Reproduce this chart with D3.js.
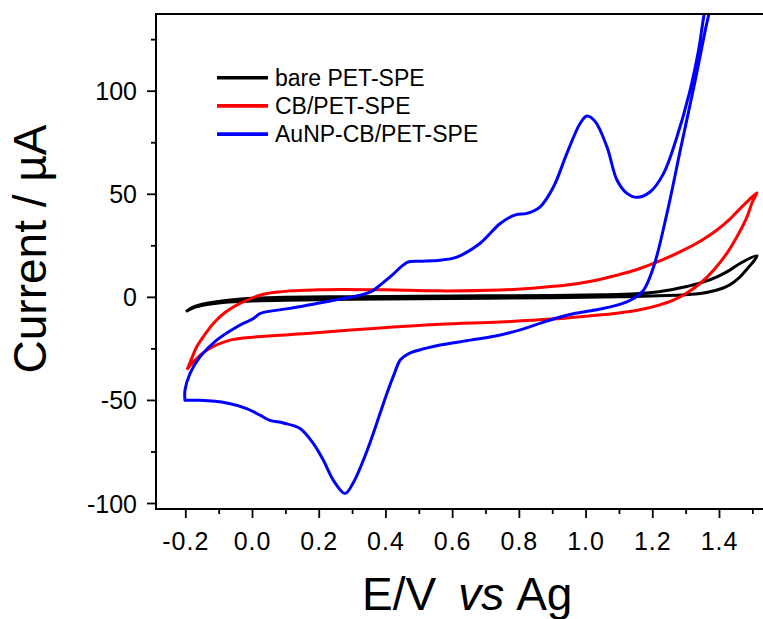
<!DOCTYPE html>
<html>
<head>
<meta charset="utf-8">
<script src="https://cdn.jsdelivr.net/npm/d3@7"></script>
<style>
  html, body { margin: 0; padding: 0; background: #fff; }
  svg { display: block; font-family: "Liberation Sans", Arial, sans-serif; }
</style>
</head>
<body>
<svg id="chart" width="763" height="619"></svg>
<script>
// Cyclic voltammograms: potential (V vs Ag) and current (µA), each loop traced in scan order.
const bareE = [-0.195, -0.18, -0.15, -0.10, -0.05, 0.0, 0.1, 0.3, 0.5, 0.7, 0.9, 1.05, 1.15, 1.22, 1.3, 1.35, 1.394, 1.43, 1.464, 1.514,
               1.50, 1.484, 1.465, 1.443, 1.42, 1.394, 1.344, 1.3, 1.244, 1.1, 0.9, 0.6, 0.3, 0.1, 0.0, -0.08, -0.13, -0.17, -0.195];
const bareI = [-6.8, -5.2, -3.6, -2.2, -1.3, -0.7, -0.2, 0.1, 0.3, 0.5, 0.7, 1.0, 1.5, 2.5, 4.9, 7.0, 9.7, 12.7, 16.3, 19.9,
               16.5, 13.5, 10.0, 7.0, 4.8, 3.3, 1.6, 1.0, 0.6, 0.0, -0.4, -0.8, -1.2, -1.6, -2.0, -2.6, -3.6, -5.0, -6.8];

const cbE = [-0.193, -0.18, -0.166, -0.14, -0.116, -0.08, -0.036, 0.024, 0.07, 0.114, 0.2, 0.264, 0.4, 0.564, 0.744, 0.85, 0.944, 1.02, 1.094,
             1.15, 1.204, 1.254, 1.304, 1.35, 1.394, 1.43, 1.464, 1.49, 1.514,
             1.50, 1.484, 1.455, 1.424, 1.385, 1.344, 1.30, 1.263, 1.22, 1.17, 1.1, 1.0, 0.9, 0.744, 0.564, 0.364, 0.164, 0.014, -0.066,
             -0.136, -0.171, -0.193];
const cbI = [-34.8, -29.5, -24.3, -18.0, -12.9, -7.5, -3.2, 0.8, 2.2, 2.9, 3.4, 3.6, 3.4, 2.9, 3.3, 4.3, 5.7, 7.7, 10.5,
             13.0, 16.2, 19.6, 23.5, 27.6, 32.4, 37.3, 42.9, 47.0, 50.5,
             46.0, 38.8, 29.5, 21.2, 13.2, 6.6, 1.5, -1.6, -4.0, -6.0, -7.8, -9.4, -10.8, -12.2, -13.3, -15.3, -17.8, -19.4, -21.0,
             -25.9, -30.7, -34.8];

const aunpE = [-0.201, -0.201, -0.186, -0.156, -0.106, -0.046, 0.004, 0.024, 0.06, 0.114, 0.194, 0.26, 0.324, 0.36, 0.384, 0.42, 0.45,
               0.47, 0.504, 0.564, 0.61, 0.684, 0.744, 0.79, 0.824, 0.864, 0.904, 0.944, 0.984, 1.004, 1.029, 1.064, 1.094, 1.124,
               1.154, 1.194, 1.234, 1.271, 1.311, 1.339, 1.356, 1.38,
               1.370, 1.361, 1.327, 1.284, 1.244, 1.204, 1.174, 1.144, 1.1, 1.04, 0.97, 0.924, 0.87, 0.804, 0.73, 0.654, 0.564, 0.52,
               0.47, 0.445, 0.425, 0.404, 0.383, 0.344, 0.304, 0.279, 0.244, 0.214, 0.184, 0.144, 0.094, 0.054, 0.024,
               -0.016, -0.076, -0.156, -0.201];
const aunpI = [-50.2, -45.3, -37.2, -29.1, -21.0, -14.6, -10.5, -8.1, -6.8, -5.6, -3.2, -1.2, 0.8, 2.8, 5.7, 10.5, 15.0,
               17.0, 17.3, 17.8, 19.0, 26.0, 35.6, 39.8, 40.5, 43.7, 53.4, 69.6, 84.2, 87.7, 85.0, 72.8, 56.7, 50.2,
               48.3, 51.0, 59.9, 76.1, 98.7, 119.8, 137.6, 155.0,
               137.6, 131.1, 103.6, 71.2, 40.5, 14.6, 3.3, -0.8, -3.8, -6.0, -8.0, -9.8, -12.5, -16.0, -19.0, -21.0, -23.4, -25.0,
               -27.5, -30.5, -38.0, -47.0, -57.0, -75.0, -90.0, -95.4, -89.0, -79.3, -71.2, -63.9, -61.2, -59.9, -57.4,
               -54.2, -51.5, -50.2, -50.2];

const seriesNames = ["bare PET-SPE", "CB/PET-SPE", "AuNP-CB/PET-SPE"];
const seriesColors = ["#000000", "#ff0000", "#0000ff"];

const xMajor = [-0.2, 0.0, 0.2, 0.4, 0.6, 0.8, 1.0, 1.2, 1.4];
const xMinor = [-0.1, 0.1, 0.3, 0.5, 0.7, 0.9, 1.1, 1.3, 1.5];
const yMajor = [-100, -50, 0, 50, 100];
const yMinor = [-75, -25, 25, 75, 125];

const svg = d3.select("#chart");

// Plot frame (the right side runs past the page edge)
const frame = { left: 156, top: 14, right: 772, bottom: 509 };

const x = d3.scaleLinear().domain([-0.2, 1.4]).range([185.3, 719.0]);
const y = d3.scaleLinear().domain([-100, 100]).range([503.0, 90.7]);

svg.append("defs").append("clipPath").attr("id", "plotClip")
  .append("rect")
  .attr("x", frame.left).attr("y", frame.top)
  .attr("width", frame.right - frame.left).attr("height", frame.bottom - frame.top);

// Curves
const line = d3.line()
  .x(d => x(d[0]))
  .y(d => y(d[1]))
  .curve(d3.curveCatmullRom.alpha(0.5));

const seriesData = [
  d3.zip(bareE, bareI),
  d3.zip(cbE, cbI),
  d3.zip(aunpE, aunpI)
];

const curves = svg.append("g").attr("clip-path", "url(#plotClip)");
curves.selectAll("path")
  .data(seriesData)
  .join("path")
  .attr("d", line)
  .attr("fill", "none")
  .attr("stroke", (d, i) => seriesColors[i])
  .attr("stroke-width", 3)
  .attr("stroke-linejoin", "round")
  .attr("stroke-linecap", "round");

// Axes (plain hyphen for negative labels)
const tickFont = 25;

const xAxis = svg.append("g").attr("transform", `translate(0,${frame.bottom})`)
  .call(d3.axisBottom(x).tickValues(xMajor).tickFormat(d => d.toFixed(1))
    .tickSize(9).tickPadding(14).tickSizeOuter(0));
svg.append("g").attr("transform", `translate(0,${frame.bottom})`)
  .call(d3.axisBottom(x).tickValues(xMinor).tickFormat("").tickSize(5).tickSizeOuter(0));

const yAxis = svg.append("g").attr("transform", `translate(${frame.left},0)`)
  .call(d3.axisLeft(y).tickValues(yMajor).tickFormat(d => String(d))
    .tickSize(9).tickPadding(10).tickSizeOuter(0));
svg.append("g").attr("transform", `translate(${frame.left},0)`)
  .call(d3.axisLeft(y).tickValues(yMinor).tickFormat("").tickSize(5).tickSizeOuter(0));

svg.selectAll(".domain").remove();
svg.selectAll(".tick line").attr("stroke", "#000").attr("stroke-width", 1.8);
svg.selectAll(".tick text")
  .attr("fill", "#000")
  .style("font-size", tickFont + "px")
  .style("font-family", "'Liberation Sans', Arial, sans-serif");
yAxis.selectAll(".tick text").attr("dy", "0.36em");
xAxis.selectAll(".tick text").attr("dy", "0.71em").style("letter-spacing", "1px");

// Frame lines: left, bottom, top
const frameG = svg.append("g").attr("stroke", "#000").attr("stroke-width", 2).attr("fill", "none");
frameG.append("line").attr("x1", frame.left).attr("x2", frame.left).attr("y1", frame.top).attr("y2", frame.bottom + 1);
frameG.append("line").attr("x1", frame.left - 1).attr("x2", frame.right).attr("y1", frame.bottom).attr("y2", frame.bottom);
frameG.append("line").attr("x1", frame.left - 1).attr("x2", frame.right).attr("y1", frame.top).attr("y2", frame.top);

// Axis titles
svg.append("text")
  .attr("transform", "translate(46,249) rotate(-90)")
  .attr("text-anchor", "middle")
  .style("font-size", "46px")
  .attr("fill", "#000")
  .text("Current / µA");

const xt = svg.append("text")
  .attr("x", 362).attr("y", 610)
  .style("font-size", "46px")
  .attr("fill", "#000");
xt.append("tspan").text("E/V");
xt.append("tspan").attr("dx", 22).style("font-style", "italic").text("vs");
xt.append("tspan").attr("dx", 12).text("Ag");

// Legend
const legend = svg.append("g").attr("transform", "translate(217,77.7)");
const items = legend.selectAll("g")
  .data(seriesNames)
  .join("g")
  .attr("transform", (d, i) => `translate(0,${i * 28.2})`);
items.append("line")
  .attr("x1", 0).attr("x2", 51).attr("y1", 0).attr("y2", 0)
  .attr("stroke", (d, i) => seriesColors[i])
  .attr("stroke-width", 3.6);
items.append("text")
  .attr("x", 58).attr("y", 0).attr("dy", "0.36em")
  .style("font-size", "23px")
  .attr("fill", "#000")
  .text(d => d);
</script>
</body>
</html>
